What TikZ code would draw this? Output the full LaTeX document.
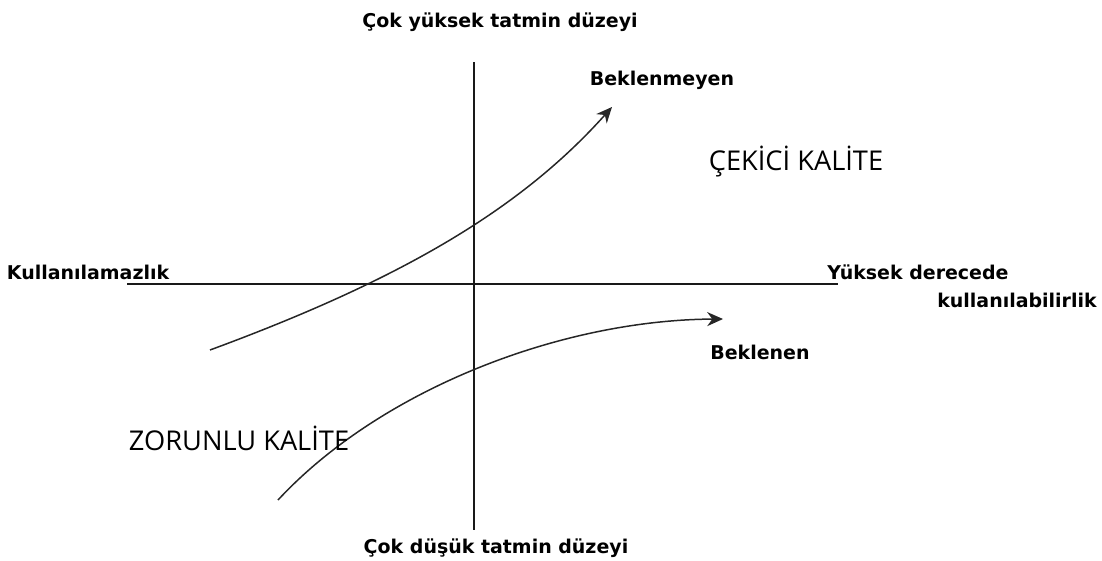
\documentclass[tikz,border=0pt]{standalone}
\usepackage{fontspec}
\setmainfont{DejaVu Sans}
\newfontfamily\qualfont{Open Sans}
\usetikzlibrary{arrows.meta}
\definecolor{axisline}{gray}{0.1}
\tikzset{
  lab/.style={font=\bfseries\fontsize{10.8}{12}\selectfont,text=black,inner sep=0pt},
  capt/.style={font=\qualfont\fontsize{15.5}{17}\selectfont,text=black,inner sep=0pt},
  axis/.style={draw=axisline,line width=0.8pt},
  curve/.style={draw=black!85,line width=0.85pt,-{Stealth[length=9pt,width=8pt]}},
}
\begin{document}
\begin{tikzpicture}[x=0.02cm,y=-0.02cm]
  \useasboundingbox (0,0) rectangle (1102,561);
  % axes
  \coordinate (ytop) at (474,62);
  \coordinate (ybot) at (474,530);
  \coordinate (xleft) at (127,284);
  \coordinate (xright) at (838,284);
  \draw[axis] (ytop) -- (ybot);
  \draw[axis] (xleft) -- (xright);
  % curves
  \coordinate (ustart) at (210,350);
  \coordinate (uend) at (612,107);
  \coordinate (lstart) at (278,500);
  \coordinate (lend) at (723,319);
  \draw[curve] (ustart) .. controls (400,280) and (520,210) .. (uend);
  \draw[curve] (lstart) .. controls (380,390) and (560,320) .. (lend);
  % labels
  \node[lab] (high) at (500,22) {Çok yüksek tatmin düzeyi};
  \node[lab] (low) at (496,548) {Çok düşük tatmin düzeyi};
  \node[lab] (unusable) at (88,272) {Kullanılamazlık};
  \node[lab] (usable1) at (918,272) {Yüksek derecede};
  \node[lab] (usable2) at (1017,300) {kullanılabilirlik};
  \node[lab] (unexp) at (662,80) {Beklenmeyen};
  \node[lab] (exp) at (760,352) {Beklenen};
  \node[capt] (attract) at (796,162) {ÇEKİCİ KALİTE};
  \node[capt] (must) at (239,438) {ZORUNLU KALİTE};
\end{tikzpicture}
\end{document}
